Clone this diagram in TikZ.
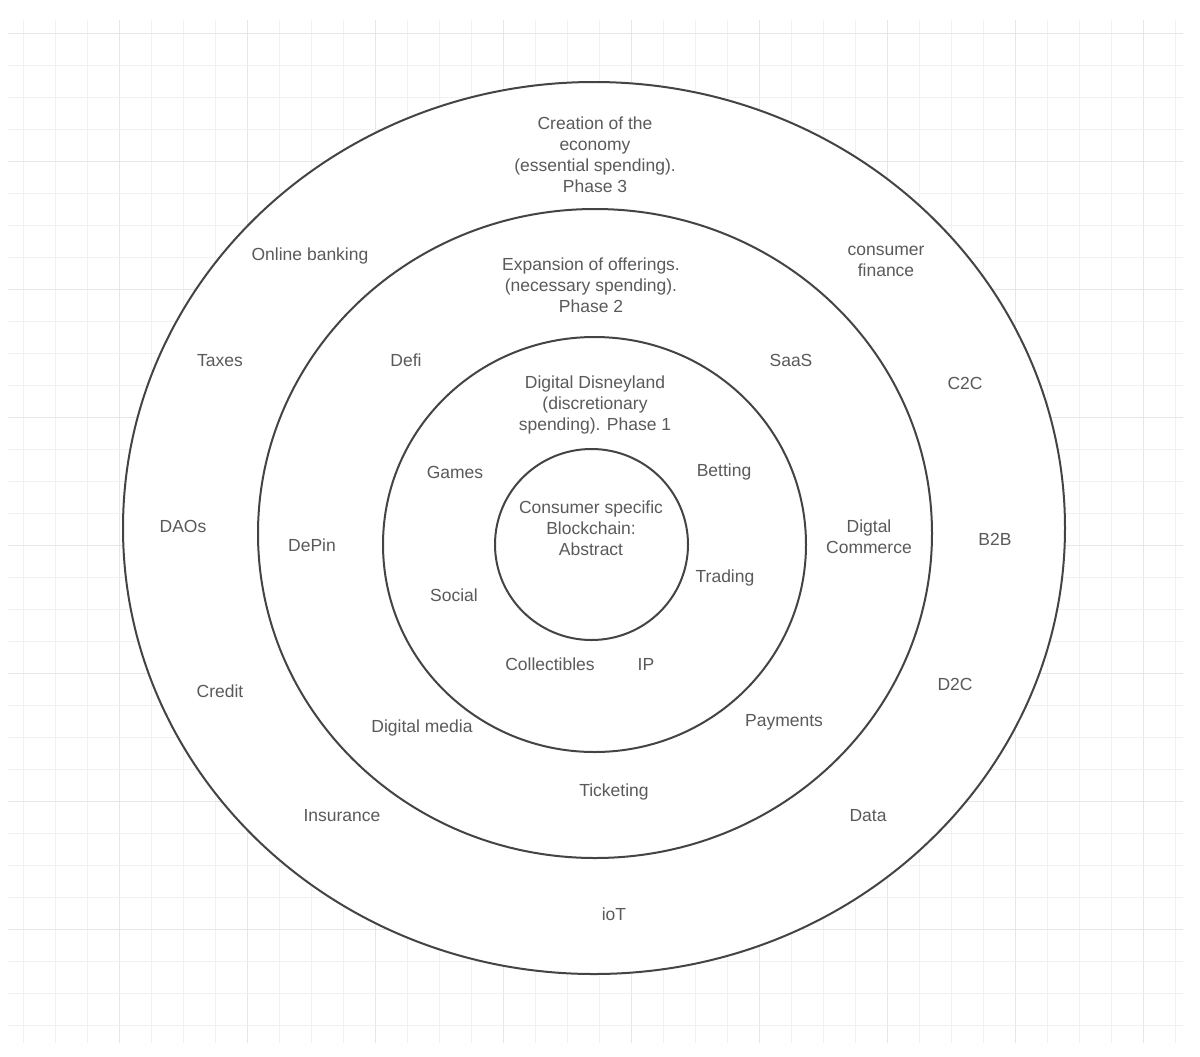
\documentclass[tikz,border=0pt]{standalone}
\usepackage{fontspec}
\setmainfont{Liberation Sans}
\usepackage{tikz}
\usetikzlibrary{positioning}
\definecolor{gridminor}{HTML}{F1F1F1}
\definecolor{gridmajor}{HTML}{E6E6E6}
\definecolor{ringline}{HTML}{444444}
\definecolor{lbltext}{HTML}{5A5A5A}
\tikzset{lbl/.style={text=lbltext, align=center, inner sep=0pt, font=\fontsize{8.75}{10.5}\selectfont}}
\tikzset{ring/.style={ringline, line width=1pt, fill=white}}

\begin{document}
\begin{tikzpicture}[x=0.5pt,y=-0.5pt]
\useasboundingbox[fill=white] (0,0) rectangle (1200,1056);

% grid paper
\foreach \k in {0,...,36} {
  \pgfmathtruncatemacro{\gx}{23+32*\k}
  \pgfmathtruncatemacro{\maj}{mod(\k,4)==3}
  \ifnum\maj=1 \draw[gridmajor, line width=0.5pt] (\gx,20) -- (\gx,1043);
  \else \draw[gridminor, line width=0.5pt] (\gx,20) -- (\gx,1043); \fi
}
\foreach \k in {0,...,31} {
  \pgfmathtruncatemacro{\gy}{33+32*\k}
  \pgfmathtruncatemacro{\maj}{mod(\k,4)==0}
  \ifnum\maj=1 \draw[gridmajor, line width=0.5pt] (8,\gy) -- (1183,\gy);
  \else \draw[gridminor, line width=0.5pt] (8,\gy) -- (1183,\gy); \fi
}

% rings
\filldraw[ring] (594,528) ellipse [x radius=471, y radius=446];
\filldraw[ring] (595,533.5) ellipse [x radius=337, y radius=324.5];
\filldraw[ring] (594.5,544.5) ellipse [x radius=211.5, y radius=207.5];
\filldraw[ring] (591.5,544.5) ellipse [x radius=96.5, y radius=95.5];

% phase 3
\node[lbl] (phasethree) at (595,154.5) {Creation of the\\economy\\(essential spending).\\Phase 3};
\node[lbl] (onlinebanking) at (310,256) {Online banking};
\node[lbl] (consumerfinance) at (886,261.5) {consumer\\finance};
\node[lbl] (taxes) at (220,361) {Taxes};
\node[lbl] (ctoc) at (965,383) {C2C};
\node[lbl] (daos) at (183,526) {DAOs};
\node[lbl] (btob) at (995,539) {B2B};
\node[lbl] (credit) at (220,691) {Credit};
\node[lbl] (dtoc) at (955,684) {D2C};
\node[lbl] (insurance) at (342,816) {Insurance};
\node[lbl] (data) at (868,816) {Data};
\node[lbl] (iot) at (614,914) {ioT};

% phase 2
\node[lbl] (phasetwo) at (591,285) {Expansion of offerings.\\(necessary spending).\\Phase 2};
\node[lbl] (defi) at (406,360) {Defi};
\node[lbl] (saas) at (791,360) {SaaS};
\node[lbl] (depin) at (312,545) {DePin};
\node[lbl] (digcommerce) at (869,536.5) {Digtal\\Commerce};
\node[lbl] (payments) at (784,722) {Payments};
\node[lbl] (digmedia) at (422,728) {Digital media};
\node[lbl] (ticketing) at (614,792) {Ticketing};

% phase 1
\node[lbl] (phaseone) at (595,404.5) {Digital Disneyland\\(discretionary\\spending). Phase 1};
\node[lbl] (games) at (455,472) {Games};
\node[lbl] (betting) at (724,472) {Betting};
\node[lbl] (trading) at (725,578) {Trading};
\node[lbl] (social) at (454,595) {Social};
\node[lbl] (collectibles) at (550,664) {Collectibles};
\node[lbl] (ip) at (646,664) {IP};

% core
\node[lbl] (core) at (591,528) {Consumer specific\\Blockchain:\\Abstract};

\end{tikzpicture}
\end{document}
